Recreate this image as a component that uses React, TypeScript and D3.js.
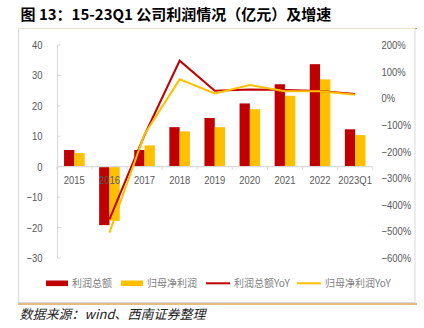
import React from 'react';
import * as d3 from 'd3';

const categories = ['2015', '2016', '2017', '2018', '2019', '2020', '2021', '2022', '2023Q1'];
const profitTotal = [5.5, -19.2, 5.5, 13.0, 16.0, 20.8, 27.1, 33.7, 12.3];
const netProfit = [4.5, -17.8, 7.0, 11.6, 13.0, 18.9, 23.3, 28.7, 10.4];
const profitYoY: (number | null)[] = [null, -455, -138, 141, 28, 33, 31, 27, 16];
const netProfitYoY: (number | null)[] = [null, -505, -135, 71, 18, 50, 26, 26, 13];
const leftTicks = [40, 30, 20, 10, 0, -10, -20, -30];
const rightTicks = [200, 100, 0, -100, -200, -300, -400, -500, -600];
const seriesNames = ['利润总额', '归母净利润', '利润总额YoY', '归母净利润YoY'];

const RED = '#C00000';
const YEL = '#FFC000';
const FONT = "'Liberation Sans', Arial, sans-serif";
const CJK = "'Noto Sans CJK SC', sans-serif";
const SX = 0.86;

function NText({ x, y, anchor, children }: { x: number; y: number; anchor: 'start' | 'middle' | 'end'; children: React.ReactNode }) {
  return (
    <text transform={`translate(${x},${y}) scale(${SX},1)`} textAnchor={anchor} fontFamily={FONT} fontSize={11} fill="#595959">
      {children}
    </text>
  );
}

export default function App() {
  const W = 424, H = 328;
  const x = d3.scaleBand<string>().domain(categories).range([56.8, 372.7]).padding(0);
  const step = x.step();
  const pairW = 20.6;
  const x1 = d3.scaleBand<string>().domain(['a', 'b']).range([0, pairW]).padding(0);
  const yL = d3.scaleLinear().domain([-30, 40]).range([258, 45]);
  const yR = d3.scaleLinear().domain([-600, 200]).range([258, 45]);
  const cx = (c: string) => (x(c) as number) + step / 2;
  const barX = (c: string, k: string) => (x(c) as number) + (step - pairW) / 2 + (x1(k) as number);

  const line = d3.line<[string, number | null]>()
    .defined(d => d[1] !== null)
    .x(d => cx(d[0]))
    .y(d => yR(d[1] as number));

  const fmtL = (v: number) => d3.format('d')(v);
  const fmtR = (v: number) => d3.format('d')(v) + '%';

  const legendY = 283.3;
  const legendItems = [
    { x: 46, type: 'rect', color: RED, label: seriesNames[0] },
    { x: 121, type: 'rect', color: YEL, label: seriesNames[1] },
    { x: 206, type: 'line', color: RED, label: seriesNames[2] },
    { x: 297, type: 'line', color: YEL, label: seriesNames[3] },
  ];

  return (
    <svg width={W} height={H} style={{ position: 'absolute', left: 0, top: 0, background: '#fff' }}>
      <text x={20.5} y={19.5} fontFamily={CJK} fontWeight="bold" fontSize={15} fill="#000">
        图 13：15-23Q1 公司利润情况（亿元）及增速
      </text>
      {/* frame */}
      <rect x={18.5} y={28.5} width={396.5} height={274} fill="none" stroke="#D9D9D9" strokeWidth={1} />
      <line x1={18} x2={417} y1={28.5} y2={28.5} stroke="#EDE3D2" strokeWidth={1} />
      <line x1={415} x2={417} y1={28.5} y2={28.5} stroke="#E0A050" strokeWidth={1.2} />
      <line x1={18} x2={417} y1={304} y2={304} stroke="#D9A45C" strokeWidth={1.6} />

      {/* left axis */}
      <line x1={57.5} x2={57.5} y1={yL(40)} y2={yL(-30)} stroke="#D9D9D9" />
      {leftTicks.map(t => (
        <g key={'l' + t}>
          <line x1={57.5} x2={60.5} y1={yL(t)} y2={yL(t)} stroke="#D9D9D9" />
          <NText x={42.5} y={yL(t) + 4} anchor="end">{fmtL(t)}</NText>
        </g>
      ))}
      {rightTicks.map(t => (
        <NText key={'r' + t} x={381.5} y={yR(t) + 4} anchor="start">{fmtR(t)}</NText>
      ))}

      {/* bars */}
      {categories.map((c, i) => (
        <g key={'b' + c}>
          <rect x={barX(c, 'a')} width={x1.bandwidth()} y={Math.min(yL(profitTotal[i]), yL(0))}
            height={Math.abs(yL(profitTotal[i]) - yL(0))} fill={RED} />
          <rect x={barX(c, 'b')} width={x1.bandwidth()} y={Math.min(yL(netProfit[i]), yL(0))}
            height={Math.abs(yL(netProfit[i]) - yL(0))} fill={YEL} />
        </g>
      ))}

      {/* x axis */}
      <line x1={x.range()[0]} x2={x.range()[1]} y1={yL(0)} y2={yL(0)} stroke="#D9D9D9" strokeWidth={1.2} />
      {categories.map(c => (
        <line key={'t' + c} x1={(x(c) as number) + step} x2={(x(c) as number) + step} y1={yL(0)} y2={yL(0) + 3} stroke="#D9D9D9" />
      ))}
      <line x1={x.range()[0]} x2={x.range()[0]} y1={yL(0)} y2={yL(0) + 3} stroke="#D9D9D9" />
      {categories.map(c => (
        <NText key={'x' + c} x={cx(c)} y={yL(0) + 17.5} anchor="middle">{c}</NText>
      ))}

      {/* lines */}
      <path d={line(categories.map((c, i) => [c, profitYoY[i]])) || ''} fill="none" stroke={RED} strokeWidth={2} />
      <path d={line(categories.map((c, i) => [c, netProfitYoY[i]])) || ''} fill="none" stroke={YEL} strokeWidth={2} />

      {/* legend */}
      {legendItems.map(item => (
        <g key={item.label}>
          {item.type === 'rect'
            ? <rect x={item.x} y={legendY - 2.8} width={22} height={5.6} fill={item.color} />
            : <line x1={item.x} x2={item.x + 24} y1={legendY} y2={legendY} stroke={item.color} strokeWidth={2} />}
          <text x={item.x + (item.type === 'rect' ? 26 : 28)} y={legendY + 3.6} fontFamily={CJK} fontSize={10} fill="#808080">
            {item.label}
          </text>
        </g>
      ))}

      <text x={19.5} y={319} fontFamily={CJK} fontStyle="italic" fontSize={13} fill="#222">
        数据来源：wind、西南证券整理
      </text>
    </svg>
  );
}
